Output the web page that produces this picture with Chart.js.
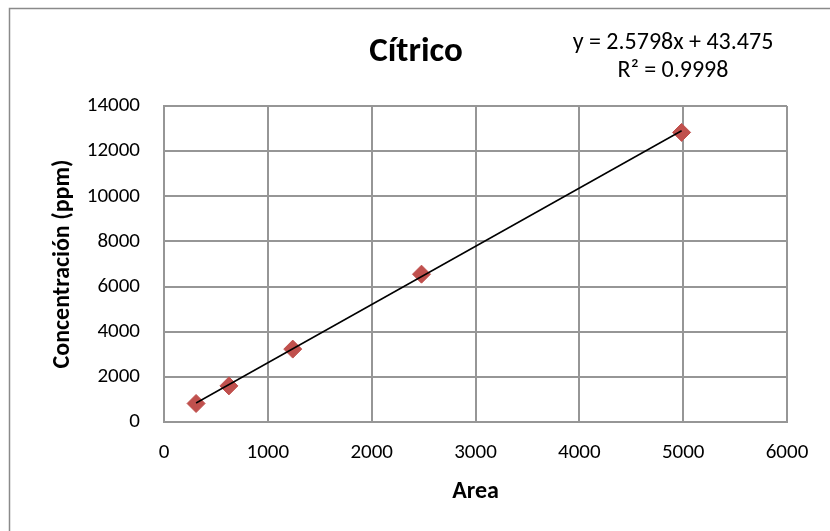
<!DOCTYPE html>
<html>
<head>
<meta charset="utf-8">
<script src="https://cdn.jsdelivr.net/npm/chart.js@4"></script>
<style>
  html, body { margin: 0; padding: 0; background: #ffffff; }
  #wrap { width: 830px; height: 531px; }
</style>
</head>
<body>
<div id="wrap"><canvas id="c" width="830" height="531"></canvas></div>
<script>
// Calibration points: peak area vs. citric acid concentration
const areaValues = [309, 625, 1240, 2480, 4985];
const concValues = [820, 1600, 3230, 6550, 12830];

// Linear fit reported on the chart
const slope = 2.5798;
const intercept = 43.475;
const titleText = 'Cítrico';
const equationLabel = 'y = 2.5798x + 43.475';
const r2Label = 'R\u00B2 = 0.9998';

const xTicks = [0, 1000, 2000, 3000, 4000, 5000, 6000];
const yTicks = [0, 2000, 4000, 6000, 8000, 10000, 12000, 14000];

const FONT = 'Carlito, Lato, "Liberation Sans", sans-serif';
const GRID = '#969696';

const points = areaValues.map((x, i) => ({ x: x, y: concValues[i] }));
const xFirst = areaValues[0];
const xLast = areaValues[areaValues.length - 1];
const fitLine = [
  { x: xFirst, y: slope * xFirst + intercept },
  { x: xLast, y: slope * xLast + intercept }
];

// Outer frame, centred title and the fit equation box
const frameAndLabels = {
  id: 'frameAndLabels',
  beforeDraw(chart) {
    const ctx = chart.ctx;
    ctx.save();
    ctx.fillStyle = '#ffffff';
    ctx.fillRect(0, 0, chart.width, chart.height);
    ctx.strokeStyle = '#8a8a8a';
    ctx.lineWidth = 1.5;
    ctx.strokeRect(9.5, 8.5, chart.width + 20, chart.height + 20);
    ctx.restore();
  },
  afterDraw(chart) {
    const ctx = chart.ctx;
    ctx.save();
    ctx.fillStyle = '#000000';
    ctx.textAlign = 'center';
    ctx.textBaseline = 'middle';
    ctx.font = 'bold 35px ' + FONT;
    ctx.fillText(titleText, 416, 52);
    ctx.font = '24px ' + FONT;
    ctx.fillText(equationLabel, 673, 43);
    ctx.fillText(r2Label, 673, 71);
    ctx.restore();
  }
};

new Chart(document.getElementById('c'), {
  type: 'scatter',
  data: {
    datasets: [
      {
        label: titleText,
        data: points,
        pointStyle: 'rectRot',
        pointRadius: 9,
        pointHoverRadius: 9,
        backgroundColor: '#c0504d',
        borderColor: '#c0504d',
        borderWidth: 1,
        showLine: false,
        order: 2
      },
      {
        label: 'Lineal',
        data: fitLine,
        type: 'line',
        borderColor: '#000000',
        borderWidth: 1.5,
        pointRadius: 0,
        fill: false,
        order: 1
      }
    ]
  },
  options: {
    responsive: false,
    animation: false,
    devicePixelRatio: 1,
    layout: { padding: { left: 0, right: 43, top: 106, bottom: 0 } },
    plugins: {
      legend: { display: false },
      tooltip: { enabled: false },
      title: { display: false }
    },
    scales: {
      x: {
        type: 'linear',
        min: 0,
        max: 6000,
        afterBuildTicks(scale) { scale.ticks = xTicks.map(v => ({ value: v })); },
        afterFit(scale) { scale.height = 109; },
        grid: { color: GRID, lineWidth: 2, drawTicks: false },
        border: { color: GRID, width: 2 },
        ticks: {
          color: '#000000',
          padding: 18,
          font: { family: FONT, size: 21 },
          callback: v => String(v)
        },
        title: {
          display: true,
          text: 'Area',
          color: '#000000',
          font: { family: FONT, size: 24, weight: 'bold' },
          padding: { top: 0, bottom: 25 }
        }
      },
      y: {
        type: 'linear',
        min: 0,
        max: 14000,
        afterBuildTicks(scale) { scale.ticks = yTicks.map(v => ({ value: v })); },
        afterFit(scale) { scale.width = 164; },
        grid: { color: GRID, lineWidth: 2, drawTicks: false },
        border: { color: GRID, width: 2 },
        ticks: {
          color: '#000000',
          padding: 24,
          font: { family: FONT, size: 21 },
          callback: v => String(v)
        },
        title: {
          display: true,
          text: 'Concentración (ppm)',
          color: '#000000',
          font: { family: FONT, size: 24, weight: 'bold' },
          padding: { top: 49, bottom: 0 }
        }
      }
    }
  },
  plugins: [frameAndLabels]
});
</script>
</body>
</html>
